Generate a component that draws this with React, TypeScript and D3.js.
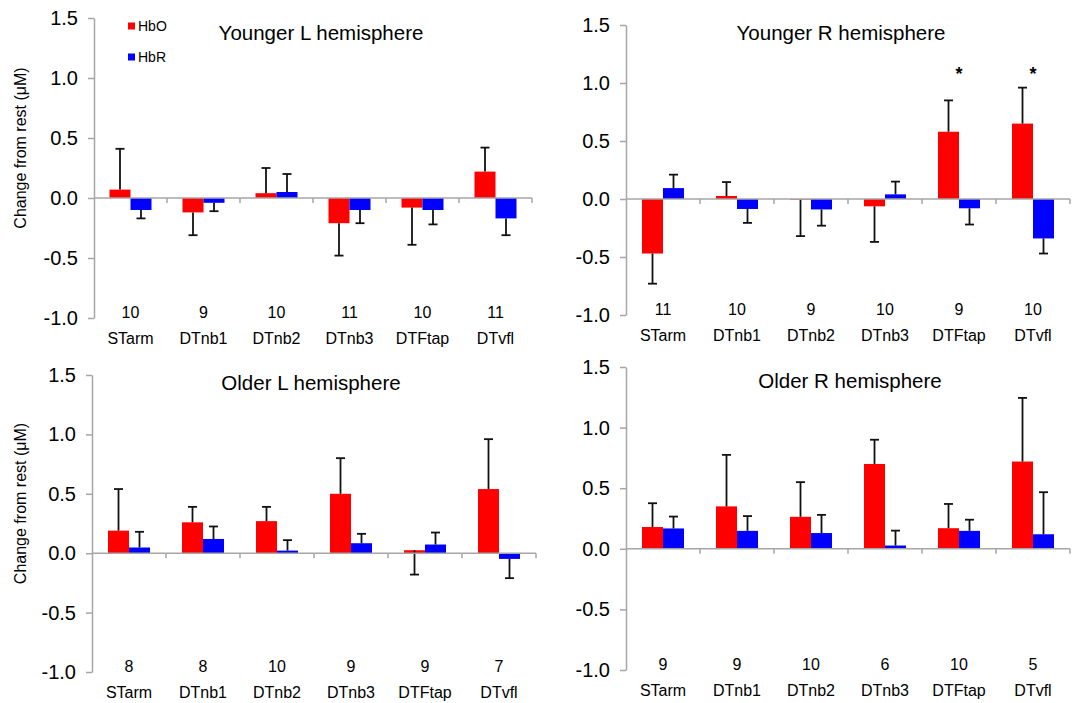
import React, { useEffect, useRef } from "react";
import * as d3 from "d3";

const categories = ["STarm", "DTnb1", "DTnb2", "DTnb3", "DTFtap", "DTvfl"];
const seriesNames = ["HbO", "HbR"];
const seriesColors = ["#ff0000", "#0000ff"];
const yTickValues = [-1, -0.5, 0, 0.5, 1, 1.5];
const yTickLabels = ["-1.0", "-0.5", "0.0", "0.5", "1.0", "1.5"];

// Younger, left hemisphere (means and tip of the error bar)
const youngerLHbO = [0.07, -0.12, 0.04, -0.21, -0.08, 0.22];
const youngerLHbOErr = [0.41, -0.31, 0.25, -0.48, -0.39, 0.42];
const youngerLHbR = [-0.1, -0.04, 0.05, -0.1, -0.1, -0.17];
const youngerLHbRErr = [-0.17, -0.11, 0.2, -0.21, -0.22, -0.31];
const youngerLN = [10, 9, 10, 11, 10, 11];

// Younger, right hemisphere
const youngerRHbO = [-0.47, 0.026, -0.005, -0.063, 0.58, 0.65];
const youngerRHbOErr = [-0.73, 0.146, -0.32, -0.37, 0.85, 0.96];
const youngerRHbR = [0.094, -0.086, -0.09, 0.04, -0.08, -0.34];
const youngerRHbRErr = [0.21, -0.206, -0.23, 0.15, -0.22, -0.47];
const youngerRN = [11, 10, 9, 10, 9, 10];
const youngerRSig = [false, false, false, false, true, true];

// Older, left hemisphere
const olderLHbO = [0.19, 0.26, 0.27, 0.5, 0.025, 0.54];
const olderLHbOErr = [0.54, 0.39, 0.39, 0.8, -0.18, 0.96];
const olderLHbR = [0.048, 0.12, 0.022, 0.084, 0.073, -0.048];
const olderLHbRErr = [0.18, 0.225, 0.11, 0.163, 0.174, -0.21];
const olderLN = [8, 8, 10, 9, 9, 7];

// Older, right hemisphere
const olderRHbO = [0.18, 0.35, 0.264, 0.7, 0.17, 0.72];
const olderRHbOErr = [0.376, 0.775, 0.55, 0.9, 0.37, 1.245];
const olderRHbR = [0.168, 0.148, 0.13, 0.027, 0.148, 0.12];
const olderRHbRErr = [0.266, 0.27, 0.28, 0.15, 0.24, 0.467];
const olderRN = [9, 9, 10, 6, 10, 5];

const noSig = [false, false, false, false, false, false];
const sigLevel = 1.1;

const panels = [
  { title: "Younger L hemisphere", hbo: youngerLHbO, hboErr: youngerLHbOErr, hbr: youngerLHbR, hbrErr: youngerLHbRErr, n: youngerLN, sig: noSig },
  { title: "Younger R hemisphere", hbo: youngerRHbO, hboErr: youngerRHbOErr, hbr: youngerRHbR, hbrErr: youngerRHbRErr, n: youngerRN, sig: youngerRSig },
  { title: "Older L hemisphere", hbo: olderLHbO, hboErr: olderLHbOErr, hbr: olderLHbR, hbrErr: olderLHbRErr, n: olderLN, sig: noSig },
  { title: "Older R hemisphere", hbo: olderRHbO, hboErr: olderRHbOErr, hbr: olderRHbR, hbrErr: olderRHbRErr, n: olderRN, sig: noSig },
];

// where each panel sits on the page
const layouts = [
  { left: 94, right: 532, top: 18, bottom: 318, titleX: 321, titleY: 33, yLabel: true, legend: true },
  { left: 626, right: 1070, top: 25, bottom: 315, titleX: 841, titleY: 33, yLabel: false, legend: false },
  { left: 92, right: 536, top: 375, bottom: 672, titleX: 311, titleY: 383, yLabel: true, legend: false },
  { left: 626, right: 1070, top: 367, bottom: 670, titleX: 850, titleY: 381, yLabel: false, legend: false },
];

const font = "'Liberation Sans', Arial, sans-serif";
const axisColor = "#a6a6a6";

const App = () => {
  const ref = useRef<SVGSVGElement>(null);

  useEffect(() => {
    const svg = d3.select(ref.current);
    svg.selectAll("*").remove();

    panels.forEach((p, pi) => {
      const L = layouts[pi];
      const g = svg.append("g");

      const x0 = d3.scaleBand().domain(categories).range([L.left, L.right]);
      const bw = x0.bandwidth();
      const x1 = d3.scaleBand().domain(seriesNames).range([bw / 2 - 21, bw / 2 + 21]);
      const y = d3.scaleLinear().domain([-1, 1.5]).range([L.bottom, L.top]);

      // bars
      const series = [
        { name: "HbO", vals: p.hbo, errs: p.hboErr, color: seriesColors[0] },
        { name: "HbR", vals: p.hbr, errs: p.hbrErr, color: seriesColors[1] },
      ];
      series.forEach((s) => {
        const items = categories.map((c, i) => ({ c, v: s.vals[i], e: s.errs[i] }));
        g.selectAll(null)
          .data(items)
          .enter()
          .append("rect")
          .attr("x", (d) => x0(d.c)! + x1(s.name)!)
          .attr("width", x1.bandwidth())
          .attr("y", (d) => Math.min(y(d.v), y(0)))
          .attr("height", (d) => Math.abs(y(d.v) - y(0)))
          .attr("fill", s.color);

        const cx = (d) => x0(d.c)! + x1(s.name)! + x1.bandwidth() / 2;
        g.selectAll(null)
          .data(items)
          .enter()
          .append("line")
          .attr("x1", cx)
          .attr("x2", cx)
          .attr("y1", (d) => y(d.v))
          .attr("y2", (d) => y(d.e))
          .attr("stroke", "#111")
          .attr("stroke-width", 1.8);
        g.selectAll(null)
          .data(items)
          .enter()
          .append("line")
          .attr("x1", (d) => cx(d) - 4.5)
          .attr("x2", (d) => cx(d) + 4.5)
          .attr("y1", (d) => y(d.e))
          .attr("y2", (d) => y(d.e))
          .attr("stroke", "#111")
          .attr("stroke-width", 1.8);
      });

      // y axis
      const yAxis = d3
        .axisLeft(y)
        .tickValues(yTickValues)
        .tickSize(6)
        .tickSizeOuter(0)
        .tickPadding(10)
        .tickFormat((d, i) => yTickLabels[i]);
      const ya = g.append("g").attr("transform", `translate(${L.left},0)`).call(yAxis);
      ya.selectAll("path, line").attr("stroke", axisColor).attr("stroke-width", 1.5);
      ya.selectAll("text")
        .attr("fill", "#000")
        .style("font-family", font)
        .style("font-size", "20px");

      // zero line with category ticks
      g.append("line")
        .attr("x1", L.left)
        .attr("x2", L.right)
        .attr("y1", y(0))
        .attr("y2", y(0))
        .attr("stroke", axisColor)
        .attr("stroke-width", 1.5);
      g.selectAll(null)
        .data(categories)
        .enter()
        .append("line")
        .attr("x1", (d) => x0(d)! + bw)
        .attr("x2", (d) => x0(d)! + bw)
        .attr("y1", y(0))
        .attr("y2", y(0) + 5)
        .attr("stroke", axisColor)
        .attr("stroke-width", 1.5);

      // n counts and category labels
      g.selectAll(null)
        .data(categories)
        .enter()
        .append("text")
        .attr("x", (d) => x0(d)! + bw / 2)
        .attr("y", y(-1))
        .attr("text-anchor", "middle")
        .style("font-family", font)
        .style("font-size", "16px")
        .text((d, i) => p.n[i]);
      g.selectAll(null)
        .data(categories)
        .enter()
        .append("text")
        .attr("x", (d) => x0(d)! + bw / 2)
        .attr("y", y(-1) + 26)
        .attr("text-anchor", "middle")
        .style("font-family", font)
        .style("font-size", "16px")
        .text((d) => d);

      // significance stars
      g.selectAll(null)
        .data(categories.filter((c, i) => p.sig[i]))
        .enter()
        .append("text")
        .attr("x", (d) => x0(d)! + bw / 2)
        .attr("y", y(sigLevel) + 9)
        .attr("text-anchor", "middle")
        .style("font-family", font)
        .style("font-size", "18px")
        .style("font-weight", "bold")
        .text("*");

      // title
      g.append("text")
        .attr("x", L.titleX)
        .attr("y", L.titleY + 7)
        .attr("text-anchor", "middle")
        .style("font-family", font)
        .style("font-size", "20.5px")
        .text(p.title);

      if (L.yLabel) {
        g.append("text")
          .attr("transform", `translate(26,${(L.top + L.bottom) / 2 - 20}) rotate(-90)`)
          .attr("text-anchor", "middle")
          .style("font-family", font)
          .style("font-size", "16px")
          .text("Change from rest (μM)");
      }

      if (L.legend) {
        const lg = g.append("g").attr("transform", `translate(128,0)`);
        const items = lg
          .selectAll(null)
          .data(seriesNames)
          .enter()
          .append("g")
          .attr("transform", (d, i) => `translate(0,${26 + i * 31})`);
        items
          .append("rect")
          .attr("x", 0)
          .attr("y", -3.5)
          .attr("width", 7)
          .attr("height", 7)
          .attr("fill", (d, i) => seriesColors[i]);
        items
          .append("text")
          .attr("x", 10)
          .attr("y", 5)
          .style("font-family", font)
          .style("font-size", "14px")
          .text((d) => d);
      }
    });
  }, []);

  return (
    <svg
      ref={ref}
      width={1074}
      height={703}
      style={{ position: "absolute", left: 0, top: 0, background: "#fff" }}
    />
  );
};

export default App;
